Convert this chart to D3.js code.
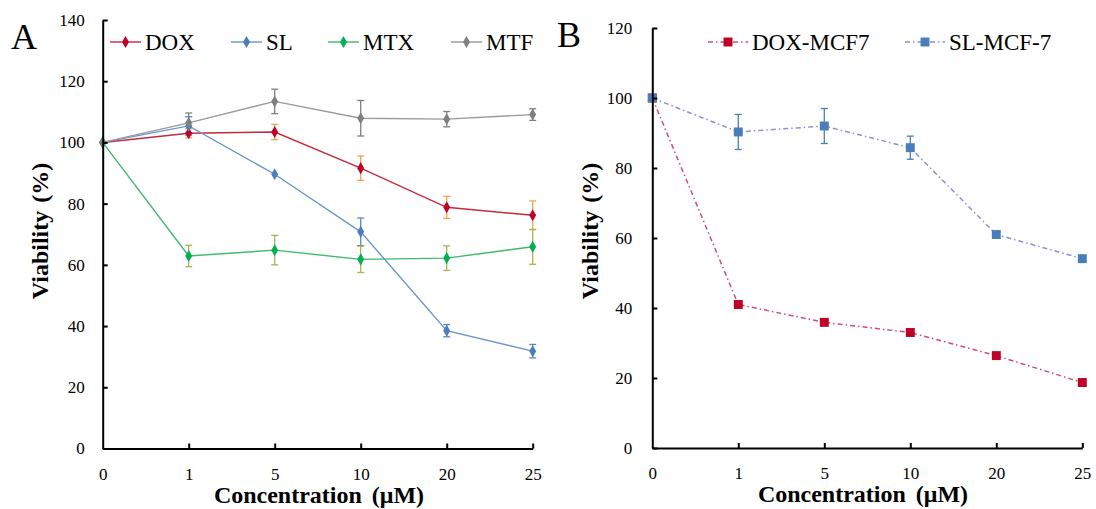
<!DOCTYPE html>
<html>
<head>
<meta charset="utf-8">
<script src="https://cdn.jsdelivr.net/npm/d3@7/dist/d3.min.js"></script>
<style>
  html, body { margin: 0; padding: 0; background: #fff; }
  svg { display: block; }
  text { font-family: "Liberation Serif", Tinos, "DejaVu Serif", "Noto Serif", serif; fill: #000; }
</style>
</head>
<body>
<svg id="chart" width="1096" height="509"></svg>
<script>
// ---------------- Data ----------------
const concentrations = ["0", "1", "5", "10", "20", "25"];

// Panel A
const seriesA = ["DOX", "SL", "MTX", "MTF"];
const doxA   = [100, 103.0, 103.4, 91.6, 78.8, 76.2];
const doxAErr = [0, 1.5, 2.5, 4.0, 3.6, 4.7];
const slA    = [100, 105.4, 89.6, 70.8, 38.5, 31.8];
const slAErr = [0, 3.0, 0, 4.5, 2.0, 2.2];
const mtxA   = [100, 62.9, 64.8, 61.8, 62.2, 65.9];
const mtxAErr = [0, 3.5, 4.8, 4.3, 4.0, 5.7];
const mtfA   = [100, 106.4, 113.4, 107.9, 107.6, 109.1];
const mtfAErr = [0, 3.2, 4.0, 5.8, 2.5, 1.9];
const yTicksA = [0, 20, 40, 60, 80, 100, 120, 140];

// Panel B
const seriesB = ["DOX-MCF7", "SL-MCF-7"];
const doxB    = [100, 41.0, 35.9, 33.0, 26.4, 18.7];
const doxBErr = [0, 0, 0, 0, 0, 0];
const slB     = [100, 90.3, 92.0, 85.8, 61.0, 54.1];
const slBErr  = [0, 5.0, 5.0, 3.3, 0, 0];
const yTicksB = [0, 20, 40, 60, 80, 100, 120];

// ---------------- Styles ----------------
const FONT = '"Liberation Serif", Tinos, "DejaVu Serif", "Noto Serif", serif';
const stylesA = {
  "DOX": { line: "#c42a3e", mark: "#c00026", err: "#f4a24c" },
  "SL":  { line: "#6c95cb", mark: "#4a7ebb", err: "#5a88c2" },
  "MTX": { line: "#3fba6c", mark: "#00b050", err: "#a9b452" },
  "MTF": { line: "#9a9a9a", mark: "#7f7f7f", err: "#7f7f7f" }
};
const stylesB = {
  "DOX-MCF7": { line: "#d0506c", mark: "#c00026", err: "#c00026" },
  "SL-MCF-7": { line: "#8e8ed8", mark: "#4a7ebb", err: "#4a7ebb" }
};

const svg = d3.select("#chart");

function panel(opts) {
  const g = svg.append("g").attr("font-family", FONT);
  const x = d3.scalePoint().domain(concentrations).range([opts.x0, opts.x1]);
  const y = d3.scaleLinear().domain([0, opts.yMax]).range([opts.yBottom, opts.yTop]);

  // lines
  const line = d3.line().x((d, i) => x(concentrations[i])).y(d => y(d));
  opts.series.forEach(s => {
    const st = opts.styles[s.name];
    g.append("path")
      .attr("d", line(s.values))
      .attr("fill", "none")
      .attr("stroke", st.line)
      .attr("stroke-width", opts.lineWidth)
      .attr("stroke-dasharray", opts.dash || null);
  });

  // error bars
  opts.series.forEach(s => {
    const st = opts.styles[s.name];
    s.values.forEach((v, i) => {
      const e = s.err[i];
      if (!e) return;
      const cx = x(concentrations[i]);
      const eg = g.append("g").attr("stroke", st.err).attr("stroke-width", 1.3);
      eg.append("line").attr("x1", cx).attr("x2", cx).attr("y1", y(v + e)).attr("y2", y(v - e));
      eg.append("line").attr("x1", cx - 3.5).attr("x2", cx + 3.5).attr("y1", y(v + e)).attr("y2", y(v + e));
      eg.append("line").attr("x1", cx - 3.5).attr("x2", cx + 3.5).attr("y1", y(v - e)).attr("y2", y(v - e));
    });
  });

  // markers
  const sym = d3.symbol().type(opts.symbol).size(opts.symbolSize);
  opts.series.forEach(s => {
    const st = opts.styles[s.name];
    g.selectAll(null).data(s.values).enter().append("path")
      .attr("d", sym)
      .attr("transform", (d, i) => `translate(${x(concentrations[i])},${y(d)})`)
      .attr("fill", st.mark);
  });

  // axes
  const ax = g.append("g")
    .attr("transform", `translate(0,${opts.yBottom})`)
    .call(d3.axisBottom(x).tickSizeInner(-5).tickSizeOuter(0).tickPadding(opts.xPad));
  ax.attr("font-family", FONT).attr("font-size", 17);
  ax.selectAll(".tick").filter(d => d === "0").select("line").remove();
  const ay = g.append("g")
    .attr("transform", `translate(${opts.x0},0)`)
    .call(d3.axisLeft(y).tickValues(opts.yTicks).tickSizeInner(-5).tickSizeOuter(0).tickPadding(opts.yPad));
  ay.attr("font-family", FONT).attr("font-size", 17);
  [ax, ay].forEach(a => {
    a.select(".domain").attr("stroke", "#000").attr("stroke-width", 2);
    a.selectAll(".tick line").attr("stroke", "#000").attr("stroke-width", 2);
  });

  // axis titles
  const xt = g.append("text")
    .attr("x", opts.xTitleX).attr("y", opts.xTitleY)
    .attr("text-anchor", "middle")
    .attr("font-size", 24).attr("font-weight", "bold");
  xt.append("tspan").text("Concentration");
  xt.append("tspan").attr("dx", 10).text("(μM)");

  const yt = g.append("text")
    .attr("transform", `translate(${opts.yTitleX},${opts.yTitleY}) rotate(-90)`)
    .attr("text-anchor", "middle")
    .attr("font-size", 24).attr("font-weight", "bold");
  yt.append("tspan").text("Viability");
  yt.append("tspan").attr("dx", 8).text("(%)");

  // panel letter
  g.append("text").attr("x", opts.letterX).attr("y", opts.letterY)
    .attr("font-size", 36).text(opts.letter);

  // legend
  const lsym = d3.symbol().type(opts.symbol).size(opts.symbolSize);
  opts.series.forEach((s, i) => {
    const st = opts.styles[s.name];
    const lx = opts.legendX[i];
    const lg = g.append("g");
    lg.append("line").attr("x1", lx).attr("x2", lx + opts.legendLen)
      .attr("y1", opts.legendY).attr("y2", opts.legendY)
      .attr("stroke", st.line).attr("stroke-width", opts.lineWidth)
      .attr("stroke-dasharray", opts.dash || null);
    lg.append("path").attr("d", lsym)
      .attr("transform", `translate(${lx + opts.legendLen / 2},${opts.legendY})`)
      .attr("fill", st.mark);
    lg.append("text").attr("x", lx + opts.legendLen + 4).attr("y", opts.legendY + 8)
      .attr("font-size", 23).text(s.name);
  });
}

panel({
  x0: 102.7, x1: 532.7, yBottom: 448.5, yTop: 20, yMax: 140, yTicks: yTicksA,
  series: [
    { name: "DOX", values: doxA, err: doxAErr },
    { name: "SL", values: slA, err: slAErr },
    { name: "MTX", values: mtxA, err: mtxAErr },
    { name: "MTF", values: mtfA, err: mtfAErr }
  ],
  styles: stylesA, symbol: d3.symbolDiamond, symbolSize: 42, lineWidth: 1.4,
  xPad: 19, yPad: 18,
  xTitleX: 319, xTitleY: 503, yTitleX: 48, yTitleY: 231,
  letter: "A", letterX: 11, letterY: 49,
  legendX: [110, 231, 328, 451], legendLen: 31, legendY: 42
});

panel({
  x0: 652.3, x1: 1082.3, yBottom: 448, yTop: 28, yMax: 120, yTicks: yTicksB,
  series: [
    { name: "DOX-MCF7", values: doxB, err: doxBErr },
    { name: "SL-MCF-7", values: slB, err: slBErr }
  ],
  styles: stylesB, symbol: d3.symbolSquare, symbolSize: 80, lineWidth: 1.5, dash: "5,3,1.5,3",
  xPad: 19, yPad: 20,
  xTitleX: 863, xTitleY: 502, yTitleX: 598, yTitleY: 231,
  letter: "B", letterX: 557, letterY: 47,
  legendX: [708, 905], legendLen: 40, legendY: 42
});
</script>
</body>
</html>
